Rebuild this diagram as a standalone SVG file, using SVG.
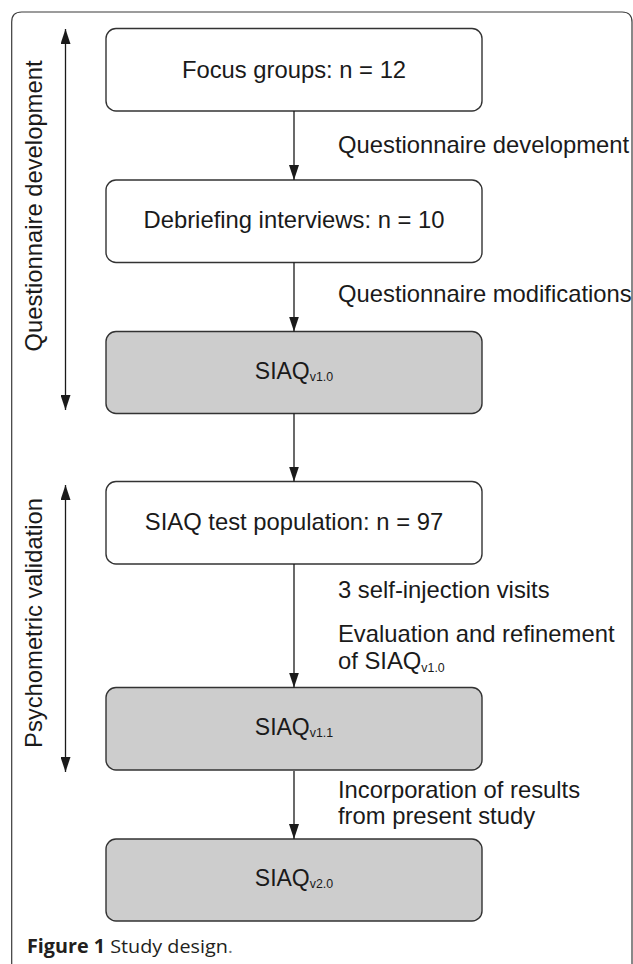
<svg xmlns="http://www.w3.org/2000/svg" width="633" height="964" viewBox="0 0 633 964">
<defs>
<marker id="ah" markerUnits="userSpaceOnUse" markerWidth="15" markerHeight="10" refX="15" refY="5" orient="auto-start-reverse" viewBox="0 0 15 10">
<path d="M0,0 L15,5 L0,10 z" fill="#1a1a1a"/>
</marker>
<style>
.box{fill:#ffffff;stroke:#333333;stroke-width:1.4}
.grey{fill:#cdcdcd}
.t{font-family:"Liberation Sans",Arial,sans-serif;font-size:23.8px;fill:#1a1a1a}
.bt{text-anchor:middle}
.sub{font-size:12.4px}
.conn{stroke:#1a1a1a;stroke-width:1.3;fill:none;marker-end:url(#ah)}
.dbl{marker-start:url(#ah)}
.cap{font-family:"Open Sans","Noto Sans",sans-serif;font-size:19px;fill:#231f20}
</style>
</defs>
<rect width="633" height="964" fill="#ffffff"/>
<path d="M11.7,964 V22 Q11.7,12 21.7,12 H622 Q632,12 632,22 V964" fill="none" stroke="#3a3a3a" stroke-width="1.2"/>

<g id="node-focus">
<rect class="box" x="106" y="28.5" width="376" height="82.5" rx="10"/>
<text class="t bt" x="294" y="78.3">Focus groups: n = 12</text>
</g>
<g id="node-debriefing">
<rect class="box" x="106" y="180" width="376" height="82.5" rx="10"/>
<text class="t bt" x="294" y="228.3">Debriefing interviews: n = 10</text>
</g>
<g id="node-siaq10">
<rect class="box grey" x="106" y="331.5" width="376" height="82" rx="10"/>
<text class="t bt" x="294" y="378.5" style="font-size:23px">SIAQ<tspan class="sub" dy="2.3">v1.0</tspan></text>
</g>
<g id="node-testpop">
<rect class="box" x="106" y="481.5" width="376" height="82.5" rx="10"/>
<text class="t bt" x="294" y="530">SIAQ test population: n = 97</text>
</g>
<g id="node-siaq11">
<rect class="box grey" x="106" y="687.5" width="376" height="82.5" rx="10"/>
<text class="t bt" x="294" y="734.5" style="font-size:23px">SIAQ<tspan class="sub" dy="2.3">v1.1</tspan></text>
</g>
<g id="node-siaq20">
<rect class="box grey" x="106" y="839" width="376" height="82" rx="10"/>
<text class="t bt" x="294" y="885.5" style="font-size:23px">SIAQ<tspan class="sub" dy="2.3">v2.0</tspan></text>
</g>

<g id="connectors">
<line class="conn" x1="294" y1="111" x2="294" y2="180"/>
<line class="conn" x1="294" y1="262.5" x2="294" y2="331.5"/>
<line class="conn" x1="294" y1="413.5" x2="294" y2="481.5"/>
<line class="conn" x1="294" y1="564" x2="294" y2="687.5"/>
<line class="conn" x1="294" y1="771" x2="294" y2="839"/>
<line class="conn dbl" x1="65.5" y1="29" x2="65.5" y2="410"/>
<line class="conn dbl" x1="65.5" y1="485" x2="65.5" y2="772"/>
</g>

<g id="labels">
<text class="t" x="338" y="152.7">Questionnaire development</text>
<text class="t" x="338" y="301.7">Questionnaire modifications</text>
<text class="t" x="338" y="597.7">3 self-injection visits</text>
<text class="t" x="338" y="641.7">Evaluation and refinement</text>
<text class="t" x="338" y="669.3">of SIAQ<tspan class="sub" dy="2.3">v1.0</tspan></text>
<text class="t" x="338" y="797.7">Incorporation of results</text>
<text class="t" x="338" y="824.3">from present study</text>
<text class="t bt" transform="translate(42,206) rotate(-90)">Questionnaire development</text>
<text class="t bt" transform="translate(42,623) rotate(-90)">Psychometric validation</text>
</g>

<text class="cap" x="27" y="952.7" textLength="206" lengthAdjust="spacingAndGlyphs"><tspan font-weight="bold">Figure 1</tspan> Study design<tspan fill="#777777">.</tspan></text>
</svg>
